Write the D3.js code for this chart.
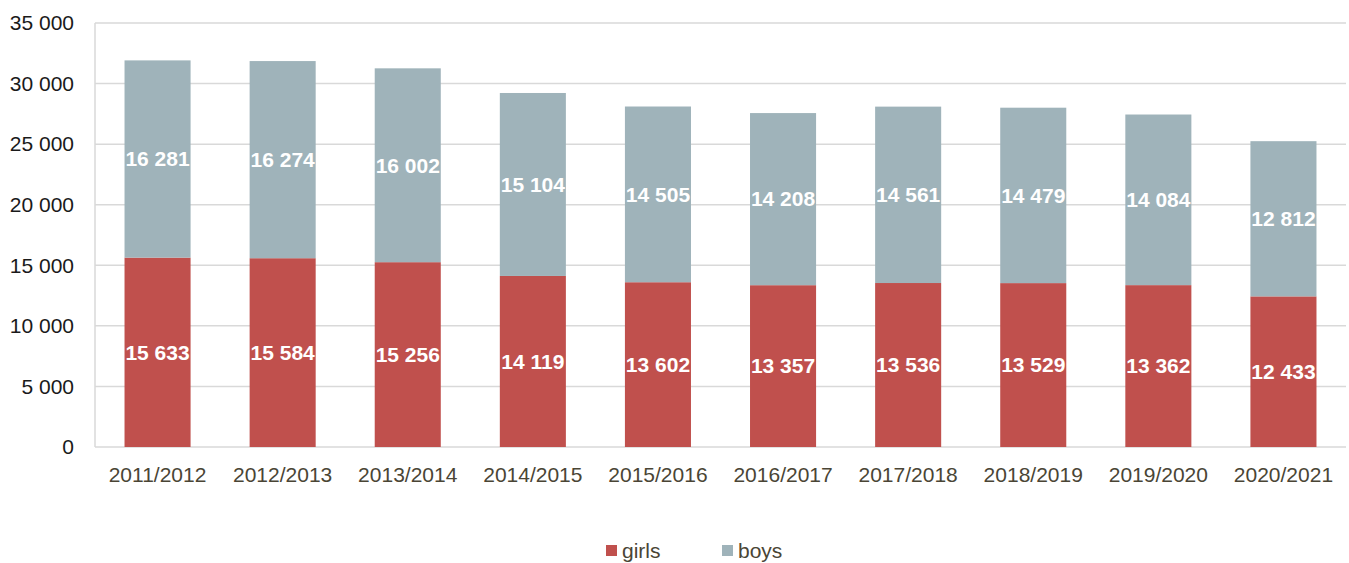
<!DOCTYPE html>
<html>
<head>
<meta charset="utf-8">
<script src="https://cdn.jsdelivr.net/npm/d3@7"></script>
<style>
  body { margin: 0; background: #fff; }
  text { font-family: "Liberation Sans", Arial, sans-serif; }
</style>
</head>
<body>
<svg id="chart" width="1349" height="563"></svg>
<script>
var years = ["2011/2012","2012/2013","2013/2014","2014/2015","2015/2016","2016/2017","2017/2018","2018/2019","2019/2020","2020/2021"];
var girls = [15633, 15584, 15256, 14119, 13602, 13357, 13536, 13529, 13362, 12433];
var boys  = [16281, 16274, 16002, 15104, 14505, 14208, 14561, 14479, 14084, 12812];
var yTicks = [0, 5000, 10000, 15000, 20000, 25000, 30000, 35000];
var seriesNames = ["girls", "boys"];
var colors = {girls: "#c0504d", boys: "#9fb3ba"};

var svg = d3.select("#chart"),
    margin = {top: 23, right: 3, bottom: 116, left: 95},
    width  = 1349 - margin.left - margin.right,
    height = 563 - margin.top - margin.bottom;

var fmt = function(v){ return d3.format(",")(v).replace(/,/g, " "); };

var x = d3.scaleBand().domain(years).range([0, width]).paddingInner(0.472).paddingOuter(0.236);
var y = d3.scaleLinear().domain([0, 35000]).range([height, 0]);

var g = svg.append("g").attr("transform", "translate(" + margin.left + "," + margin.top + ")");

// gridlines
g.selectAll("line.grid").data(yTicks).enter().append("line")
  .attr("class", "grid")
  .attr("x1", 0).attr("x2", width)
  .attr("y1", function(d){ return y(d); }).attr("y2", function(d){ return y(d); })
  .attr("stroke", "#d9d9d9").attr("stroke-width", 1.5);

// y axis line
g.append("line").attr("x1", 0).attr("x2", 0).attr("y1", 0).attr("y2", height)
  .attr("stroke", "#d9d9d9").attr("stroke-width", 1.5);

// y tick labels
var yAxis = d3.axisLeft(y).tickValues(yTicks).tickFormat(fmt).tickSize(0).tickPadding(21);
g.append("g").call(yAxis)
  .call(function(s){ s.select(".domain").remove(); })
  .selectAll("text").attr("font-size", 21).attr("fill", "#1a1a1a")
  .attr("font-family", "Liberation Sans, Arial, sans-serif");

// x tick labels
var xAxis = d3.axisBottom(x).tickSize(0).tickPadding(20);
g.append("g").attr("transform", "translate(0," + height + ")").call(xAxis)
  .call(function(s){ s.select(".domain").remove(); })
  .selectAll("text").attr("font-size", 21).attr("fill", "#4a4535")
  .attr("font-family", "Liberation Sans, Arial, sans-serif");

var rows = years.map(function(yr, i){ return {year: yr, girls: girls[i], boys: boys[i]}; });
var stacked = d3.stack().keys(seriesNames)(rows);

var layer = g.selectAll("g.layer").data(stacked).enter().append("g").attr("class", "layer");

layer.selectAll("rect").data(function(d){ return d.map(function(p){ p.key = d.key; return p; }); })
  .enter().append("rect")
  .attr("x", function(d){ return x(d.data.year); })
  .attr("width", x.bandwidth())
  .attr("y", function(d){ return y(d[1]); })
  .attr("height", function(d){ return y(d[0]) - y(d[1]); })
  .attr("fill", function(d){ return colors[d.key]; });

layer.selectAll("text.val").data(function(d){ return d; })
  .enter().append("text")
  .attr("class", "val")
  .attr("x", function(d){ return x(d.data.year) + x.bandwidth() / 2; })
  .attr("y", function(d){ return (y(d[0]) + y(d[1])) / 2; })
  .attr("dy", "0.35em")
  .attr("text-anchor", "middle")
  .attr("font-size", 21).attr("font-weight", "bold").attr("fill", "#fff")
  .text(function(d){ return fmt(d[1] - d[0]); });

// legend
var legend = svg.append("g").attr("transform", "translate(606,545)");
var legendX = [0, 116];
seriesNames.forEach(function(name, i){
  var lg = legend.append("g").attr("transform", "translate(" + legendX[i] + ",0)");
  lg.append("rect").attr("width", 11).attr("height", 11).attr("fill", colors[name]);
  lg.append("text").attr("x", 16).attr("y", 5.5).attr("dy", "0.35em")
    .attr("font-size", 21).attr("fill", "#4a4535").text(name);
});
</script>
</body>
</html>
